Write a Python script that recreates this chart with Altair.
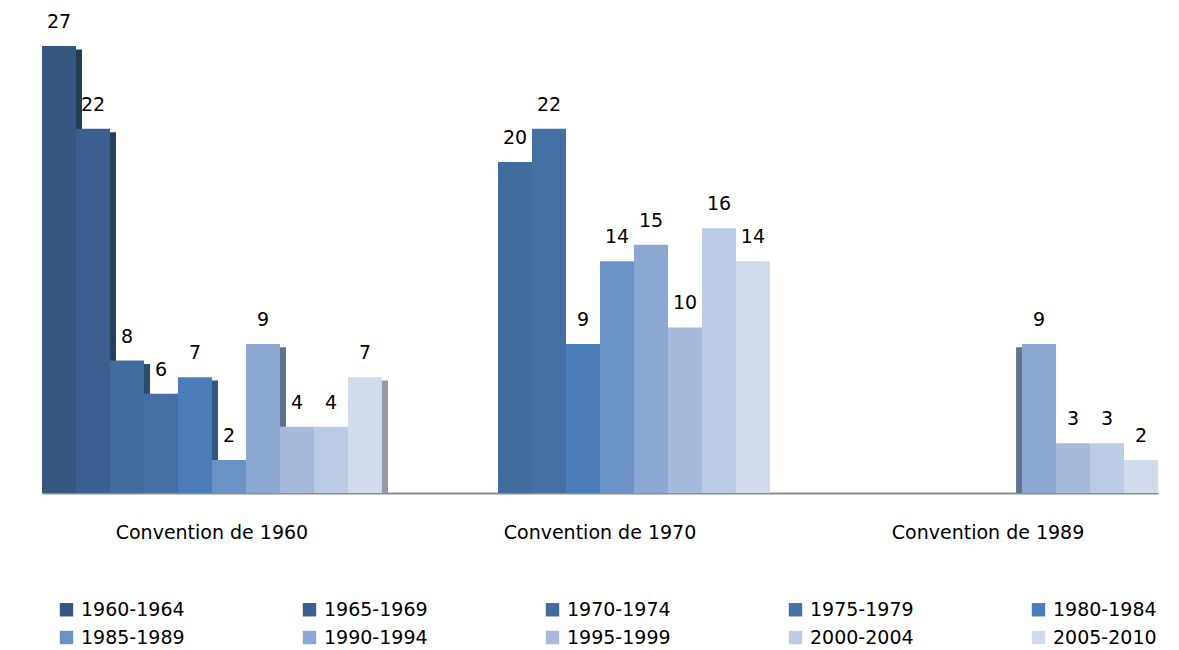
import altair as alt
import pandas as pd

groups = ["Convention de 1960", "Convention de 1970", "Convention de 1989"]
periods = ["1960-1964", "1965-1969", "1970-1974", "1975-1979", "1980-1984",
           "1985-1989", "1990-1994", "1995-1999", "2000-2004", "2005-2010"]
v1960 = [27, 22, 8, 6, 7, 2, 9, 4, 4, 7]
v1970 = [0, 0, 20, 22, 9, 14, 15, 10, 16, 14]
v1989 = [0, 0, 0, 0, 0, 0, 9, 3, 3, 2]
colors = ["#355780", "#3B5F90", "#416C9E", "#4470A6", "#4A7DBA",
          "#6A92C7", "#8CA8D2", "#A7BADC", "#BECBE4", "#D2DBEC"]
side_colors = ["#243A55", "#27405F", "#2D4B6E", "#2F4E74", "#345682",
               "#4A668B", "#5F7492", "#74829A", "#858E9E", "#939AA5"]

rows = []
for g, vals in zip(groups, [v1960, v1970, v1989]):
    for p, v in zip(periods, vals):
        rows.append({"groupe": g, "periode": p, "valeur": v})
df = pd.DataFrame(rows)

FONT = "DejaVu Sans"
W, H = 1116, 485
BW = 34  # bar slot width in px (group band / 10)

x = alt.X("groupe:N", sort=groups, title=None,
          scale=alt.Scale(paddingInner=0.124, paddingOuter=0),
          axis=alt.Axis(labelFontSize=19, labelFont=FONT, labelColor="#000000",
                        labelPadding=30, ticks=False, domain=True, labelLimit=400,
                        domainColor="#8C8C8C", domainWidth=2, labelAngle=0))
yscale = alt.Scale(domain=[0, 29.3], nice=False)
y = alt.Y("valeur:Q", scale=yscale, axis=None)
xo = alt.XOffset("periode:N", sort=periods,
                 scale=alt.Scale(type="band", domain=periods, paddingInner=0, paddingOuter=0))

side_color = alt.Color("periode:N", sort=periods,
                       scale=alt.Scale(domain=periods, range=side_colors), legend=None)

base = alt.Chart(df).transform_filter("datum.valeur > 0")

# 3D side faces: shifted copies drawn beneath the bars
side_right = base.transform_filter(f"datum.groupe == '{groups[0]}'").transform_calculate(
    top="datum.valeur - 0.2").mark_bar().encode(
    x=x,
    y=alt.Y("top:Q", scale=yscale, axis=None),
    xOffset=alt.XOffset("periode:N", sort=periods,
                        scale=alt.Scale(type="band", domain=periods, range=[6, 10 * BW + 6],
                                        paddingInner=0, paddingOuter=0)),
    color=side_color)
side_left = base.transform_filter(f"datum.groupe == '{groups[2]}'").transform_calculate(
    top="datum.valeur - 0.2").mark_bar().encode(
    x=x,
    y=alt.Y("top:Q", scale=yscale, axis=None),
    xOffset=alt.XOffset("periode:N", sort=periods,
                        scale=alt.Scale(type="band", domain=periods, range=[-6, 10 * BW - 6],
                                        paddingInner=0, paddingOuter=0)),
    color=side_color)

bars = alt.Chart(df).mark_bar(strokeWidth=0).encode(
    x=x, y=y, xOffset=xo,
    color=alt.Color("periode:N", sort=periods,
                    scale=alt.Scale(domain=periods, range=colors),
                    legend=alt.Legend(
                        title=None, orient="none", legendX=15, legendY=592,
                        direction="horizontal", columns=5,
                        symbolType="square", symbolSize=180, symbolStrokeWidth=0,
                        labelFontSize=19, labelFont=FONT, labelColor="#000000",
                        columnPadding=115, rowPadding=8, labelOffset=5,
                        labelLimit=200)),
)

labels = base.mark_text(
    baseline="bottom", dy=-14, fontSize=19, font=FONT, color="#000000"
).encode(x=x, y=y, xOffset=xo, text="valeur:Q")

chart = alt.layer(side_right, side_left, bars, labels).resolve_scale(
    color="independent", xOffset="independent"
).properties(
    width=W, height=H,
    padding={"left": 34, "top": 0, "right": 13, "bottom": 157},
    autosize="none",
).configure_view(stroke=None)

chart.save("out.html", embed_options={"renderer": "svg", "actions": False})
